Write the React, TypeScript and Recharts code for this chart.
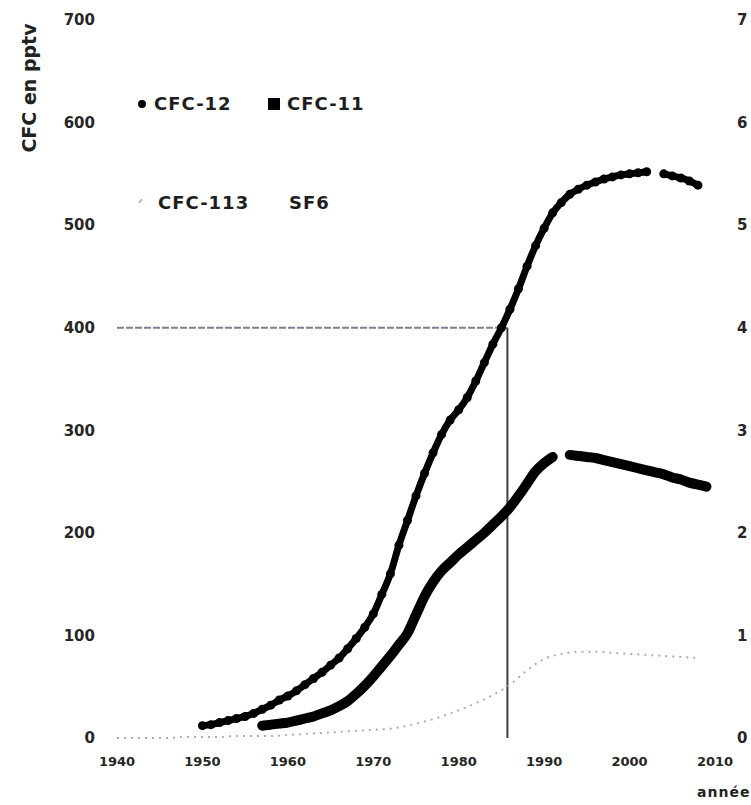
import { ComposedChart, Line, XAxis, YAxis, ReferenceLine, Legend, Label } from "recharts";

// values (pptv); null = visible break in the trace
const cfc12Years = [
  1950, 1951, 1952, 1953, 1954, 1955, 1956, 1957, 1958, 1959,
  1960, 1961, 1962, 1963, 1964, 1965, 1966, 1967, 1968, 1969,
  1970, 1971, 1972, 1973, 1974, 1975, 1976, 1977, 1978, 1979,
  1980, 1981, 1982, 1983, 1984, 1985, 1986, 1987, 1988, 1989,
  1990, 1991, 1992, 1993, 1994, 1995, 1996, 1997, 1998, 1999,
  2000, 2001, 2002, 2003, 2004, 2005, 2006, 2007, 2008,
];
const cfc12Values = [
  12, 13, 15, 17, 19, 21, 24, 28, 32, 37,
  41, 46, 52, 58, 64, 71, 78, 87, 97, 108,
  121, 140, 160, 188, 212, 236, 258, 278, 296, 310,
  320, 332, 348, 366, 384, 400, 418, 438, 460, 480,
  497, 512, 522, 530, 535, 539, 542, 545, 547, 549,
  550, 551, 552, null, 550, 548, 546, 543, 539,
];

const cfc11Years = [
  1957, 1958, 1959, 1960, 1961, 1962, 1963, 1964, 1965, 1966,
  1967, 1968, 1969, 1970, 1971, 1972, 1973, 1974, 1975, 1976,
  1977, 1978, 1979, 1980, 1981, 1982, 1983, 1984, 1985, 1986,
  1987, 1988, 1989, 1990, 1991, 1992, 1993, 1994, 1995, 1996,
  1997, 1998, 1999, 2000, 2001, 2002, 2003, 2004, 2005, 2006,
  2007, 2008, 2009,
];
const cfc11Values = [
  12, 13, 14, 15, 17, 19, 21, 24, 27, 31,
  36, 43, 51, 60, 70, 80, 91, 102, 120, 138,
  152, 163, 171, 179, 186, 193, 200, 208, 216, 225,
  236, 248, 260, 268, 274, null, 276, 275, 274, 273,
  271, 269, 267, 265, 263, 261, 259, 257, 254, 252,
  249, 247, 245,
];

const cfc113Years = [
  1940, 1942, 1944, 1946, 1948, 1950, 1952, 1954, 1956, 1958,
  1960, 1962, 1964, 1966, 1968, 1970, 1972, 1974, 1976, 1978,
  1980, 1982, 1984, 1986, 1988, 1990, 1992, 1994, 1996, 1998,
  2000, 2002, 2004, 2006, 2008,
];
const cfc113Values = [
  0, 0, 0, 0, 1, 1, 1, 2, 2, 2,
  3, 4, 5, 6, 7, 8, 9, 12, 16, 21,
  27, 34, 42, 52, 66, 77, 82, 84, 84, 83,
  82, 81, 80, 79, 78,
];

// SF6 is listed in the legend but no trace is visible on the figure
const sf6Years: number[] = [];
const sf6Values: number[] = [];

const xTicks = [1940, 1950, 1960, 1970, 1980, 1990, 2000, 2010];
const leftTicks = [0, 100, 200, 300, 400, 500, 600, 700];
const rightTicks = [0, 1, 2, 3, 4, 5, 6, 7];

// reading guide drawn on the figure
const markYear = 1985.7;
const markLevel = 400;

const toRows = (years: number[], values: (number | null)[]) =>
  years.map((year, i) => ({ year, v: values[i] }));

const cfc12 = toRows(cfc12Years, cfc12Values);
const cfc11 = toRows(cfc11Years, cfc11Values);
const cfc113 = toRows(cfc113Years, cfc113Values);
const sf6 = toRows(sf6Years, sf6Values);

const FONT = "'DejaVu Sans', sans-serif";
const tickStyle = { fill: "#262626", fontSize: 15, fontWeight: 700, fontFamily: FONT };

function LegendBox() {
  const text = { position: "absolute" as const, fontFamily: FONT, fontWeight: 700, fontSize: 18, letterSpacing: 1, color: "#1e1e1e", lineHeight: "20px" };
  return (
    <div style={{ position: "relative", width: 260, height: 130 }}>
      <span style={{ position: "absolute", left: 8, top: 12, width: 8, height: 8, borderRadius: 4, background: "#000" }} />
      <span style={{ ...text, left: 24, top: 6 }}>CFC-12</span>
      <span style={{ position: "absolute", left: 138, top: 10, width: 12, height: 12, background: "#000" }} />
      <span style={{ ...text, left: 157, top: 6 }}>CFC-11</span>
      <span style={{ position: "absolute", left: 8, top: 112, width: 5, height: 2, background: "#bbb", transform: "rotate(-45deg)" }} />
      <span style={{ ...text, left: 28, top: 105 }}>CFC-113</span>
      <span style={{ ...text, left: 159, top: 105 }}>SF6</span>
    </div>
  );
}

export default function App() {
  return (
    <div style={{ position: "absolute", left: 0, top: 0, width: 751, height: 805, background: "#fff", overflow: "hidden" }}>
      <ComposedChart width={751} height={805} margin={{ top: 20, right: 0, bottom: 37, left: 0 }}>
        <XAxis
          type="number"
          dataKey="year"
          domain={[1940, 2010]}
          ticks={xTicks}
          axisLine={false}
          tickLine={false}
          tickSize={0}
          tickMargin={19}
          height={30}
          tick={{ ...tickStyle, fontSize: 13 }}
          allowDuplicatedCategory={false}
        />
        <YAxis
          yAxisId="left"
          domain={[0, 700]}
          ticks={leftTicks}
          axisLine={false}
          tickLine={false}
          tickSize={0}
          tickMargin={22}
          width={117}
          tick={tickStyle}
        >
          <Label
            content={() => (
              <text
                x={29}
                y={88}
                transform="rotate(-90 29 88)"
                textAnchor="middle"
                dominantBaseline="central"
                fontFamily={FONT}
                fontWeight={700}
                fontSize={19}
                fill="#222"
              >
                CFC en pptv
              </text>
            )}
          />
        </YAxis>
        <YAxis
          yAxisId="right"
          orientation="right"
          type="number"
          domain={[0, 7]}
          allowDataOverflow
          ticks={rightTicks}
          axisLine={false}
          tickLine={false}
          tickSize={0}
          tickMargin={22}
          width={36}
          tick={tickStyle}
        />
        <Legend
          layout="horizontal"
          verticalAlign="middle"
          align="center"
          content={() => <LegendBox />}
          wrapperStyle={{ position: "absolute", left: 130, top: 88, width: 260, height: 130 }}
        />
        <ReferenceLine
          yAxisId="left"
          segment={[{ x: 1940, y: markLevel }, { x: markYear, y: markLevel }]}
          stroke="#7c7d90"
          strokeWidth={2}
          strokeDasharray="7 2"
        />
        <ReferenceLine
          yAxisId="left"
          segment={[{ x: markYear, y: markLevel }, { x: markYear, y: 0 }]}
          stroke="#3d3d3d"
          strokeWidth={2}
        />
        <Line
          yAxisId="right"
          data={sf6}
          dataKey="v"
          name="SF6"
          stroke="#999"
          dot={false}
          isAnimationActive={false}
        />
        <Line
          yAxisId="left"
          data={cfc113}
          dataKey="v"
          name="CFC-113"
          type="monotone"
          stroke="#adadb6"
          strokeWidth={2}
          strokeDasharray="2 5"
          dot={false}
          isAnimationActive={false}
        />
        <Line
          yAxisId="left"
          data={cfc11}
          dataKey="v"
          name="CFC-11"
          type="monotone"
          stroke="#000"
          strokeWidth={10}
          strokeLinecap="round"
          dot={false}
          isAnimationActive={false}
        />
        <Line
          yAxisId="left"
          data={cfc12}
          dataKey="v"
          name="CFC-12"
          type="monotone"
          stroke="#000"
          strokeWidth={7}
          strokeLinecap="round"
          dot={{ r: 4.5, fill: "#000", stroke: "none" }}
          isAnimationActive={false}
        />
      </ComposedChart>
      <div
        style={{
          position: "absolute",
          left: 697,
          top: 784,
          fontFamily: FONT,
          fontWeight: 700,
          fontSize: 14,
          letterSpacing: 1,
          color: "#222",
          whiteSpace: "nowrap",
        }}
      >
        année
      </div>
    </div>
  );
}
